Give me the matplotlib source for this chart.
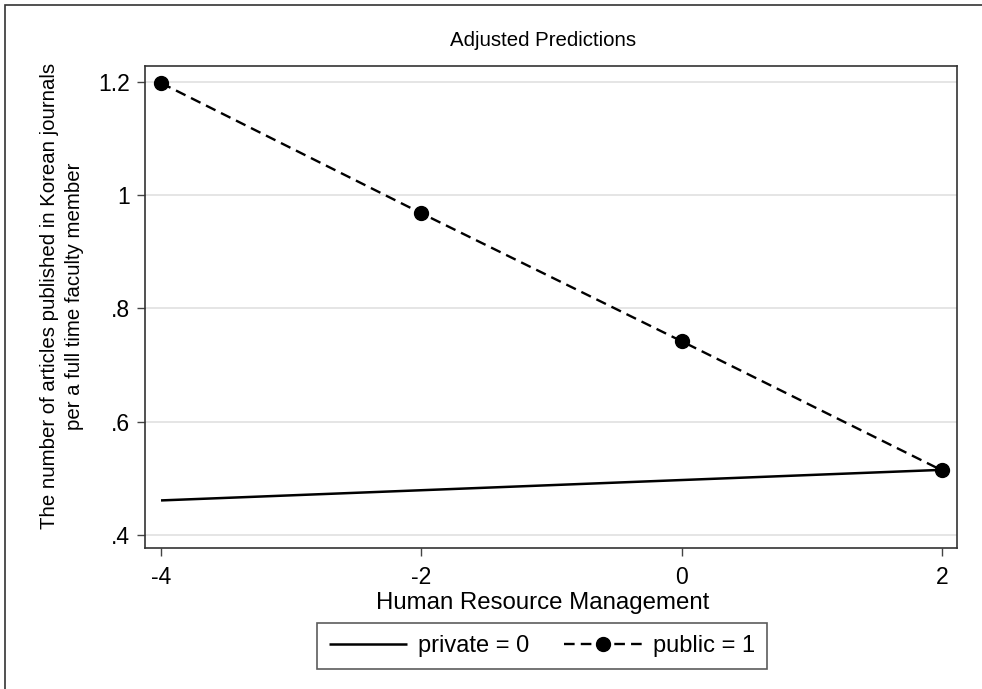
import matplotlib.pyplot as plt
from matplotlib.patches import Rectangle

plt.rcParams['font.family'] = ['Liberation Sans', 'DejaVu Sans']
plt.rcParams['axes.unicode_minus'] = False

hrm = [-4, -2, 0, 2]
private = [0.461, 0.479, 0.497, 0.515]
public = [1.198, 0.968, 0.742, 0.514]
yticks = [0.4, 0.6, 0.8, 1.0, 1.2]
ylabels = ['.4', '.6', '.8', '1', '1.2']
xticks = [-4, -2, 0, 2]

W, H = 982, 689
fig = plt.figure(figsize=(W / 100, H / 100), dpi=100)
ax = fig.add_axes([145 / W, 1 - 548 / H, (957 - 145) / W, (548 - 66) / H])

# outer frame (cut off on the right and bottom like the original)
fig.patches.append(Rectangle((5 / W, -0.1), 1.2, 1 - 5 / H + 0.1, transform=fig.transFigure,
                             fill=False, edgecolor='#333333', linewidth=1.2))

l1, = ax.plot(hrm, private, color='black', linewidth=1.8, solid_capstyle='butt')
l2, = ax.plot(hrm, public, color='black', linewidth=1.7, linestyle=(0, (4.5, 2.6)),
              marker='o', markersize=10)

ax.set_xlim(-4.123, 2.115)
ax.set_ylim(0.377, 1.228)
ax.set_yticks(yticks)
ax.set_yticklabels(ylabels)
ax.set_xticks(xticks)
ax.yaxis.grid(True, color='#e0e0e0', linewidth=1.2)
ax.set_axisbelow(True)
ax.tick_params(direction='out', length=6, width=1, color='#444444', labelsize=16.5, pad=5)
ax.tick_params(axis='x', pad=7)
for s in ax.spines.values():
    s.set_color('#333333')
    s.set_linewidth(1.2)

fig.text(543 / W, 1 - 40 / H, 'Adjusted Predictions', ha='center', va='center', fontsize=14.7)
fig.text(543 / W, 1 - 603 / H, 'Human Resource Management', ha='center', va='center', fontsize=17.3)
fig.text(62 / W, 1 - 296 / H,
         'The number of articles published in Korean journals\nper a full time faculty member',
         ha='center', va='center', rotation=90, fontsize=14.7, linespacing=1.4)

leg = fig.legend([l1, l2], ['private = 0', 'public = 1'], loc='center',
                 bbox_to_anchor=(542 / W, 1 - 646 / H), ncol=2, frameon=True, fancybox=False,
                 fontsize=17, handlelength=3.3, columnspacing=1.5, borderpad=0.5,
                 handletextpad=0.45)
leg.get_frame().set_edgecolor('#333333')
leg.get_frame().set_linewidth(1.2)

fig.savefig('out.png', dpi=100)
